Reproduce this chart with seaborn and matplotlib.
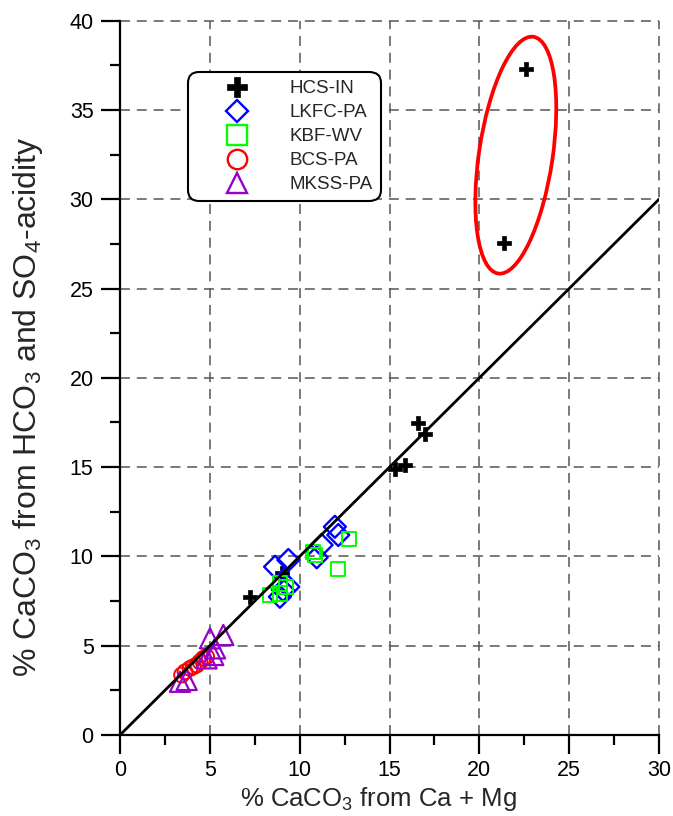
import numpy as np
import pandas as pd
import matplotlib
matplotlib.use("Agg")
import matplotlib.pyplot as plt
import seaborn as sns
from matplotlib.patches import Ellipse
from matplotlib.lines import Line2D
from matplotlib.ticker import MultipleLocator

# ---------------- data ----------------
site_names = ["HCS-IN", "LKFC-PA", "KBF-WV", "BCS-PA", "MKSS-PA"]

hcs_x = [22.59, 21.37, 16.58, 16.97, 15.30, 15.86, 7.23, 9.00]
hcs_y = [37.29, 27.55, 17.47, 16.85, 14.89, 15.12, 7.73, 9.07]

lkfc_x = [8.63, 9.37, 10.95, 11.22, 11.96, 12.15, 8.90, 9.37, 9.07]
lkfc_y = [9.42, 9.80, 9.95, 10.64, 11.66, 11.20, 7.74, 8.30, 8.12]

kbf_x = [12.74, 12.15, 10.76, 10.85, 8.35, 8.90, 9.24, 8.90]
kbf_y = [10.96, 9.28, 10.26, 10.08, 7.84, 7.93, 8.30, 8.49]

bcs_x = [3.43, 3.62, 3.90, 4.08, 4.27, 4.45, 4.64, 4.82]
bcs_y = [3.36, 3.54, 3.73, 3.82, 3.92, 4.10, 4.29, 4.38]

mkss_x = [3.34, 3.71, 5.01, 5.75, 5.29, 5.19, 4.82]
mkss_y = [2.98, 3.08, 5.41, 5.60, 4.85, 4.48, 4.29]

ref_line_x = [0, 30]
ref_line_y = [0, 30]

ellipse_center = (22.03, 32.47)
ellipse_major = 13.4
ellipse_minor = 4.1
ellipse_angle = 81.6

x_ticks = [0, 5, 10, 15, 20, 25, 30]
y_ticks = [0, 5, 10, 15, 20, 25, 30, 35, 40]

x_label = "% CaCO$_3$ from Ca + Mg"
y_label = "% CaCO$_3$ from HCO$_3$ and SO$_4$-acidity"

# ---------------- style ----------------
sns.set_style("ticks")
plt.rcParams["font.family"] = ["Liberation Sans", "DejaVu Sans"]
plt.rcParams["mathtext.fontset"] = "custom"
plt.rcParams["mathtext.rm"] = "Liberation Sans"
plt.rcParams["mathtext.it"] = "Liberation Sans"
plt.rcParams["mathtext.bf"] = "Liberation Sans"
plt.rcParams["mathtext.default"] = "regular"

frames = []
for name, xs, ys in zip(site_names,
                        [hcs_x, lkfc_x, kbf_x, bcs_x, mkss_x],
                        [hcs_y, lkfc_y, kbf_y, bcs_y, mkss_y]):
    frames.append(pd.DataFrame({"x": xs, "y": ys, "site": name}))
df = pd.concat(frames, ignore_index=True)

styles = {
    "HCS-IN":  dict(marker="P", color="#000000", s=115, filled=True,  lw=0.5, lms=14.0),
    "LKFC-PA": dict(marker="D", color="#0000FF", s=125, filled=False, lw=1.7, lms=11.5),
    "KBF-WV":  dict(marker="s", color="#00FF00", s=105, filled=False, lw=1.4, lms=14.0),
    "BCS-PA":  dict(marker="o", color="#FF0000", s=115, filled=False, lw=1.4, lms=14.0),
    "MKSS-PA": dict(marker="^", color="#9600C8", s=210, filled=False, lw=1.6, lms=15.0),
}

fig = plt.figure(figsize=(6.73, 8.16), dpi=100)
ax = fig.add_axes([120 / 673, 1 - 735 / 816, 539 / 673, 714.3 / 816])

for i, name in enumerate(site_names):
    st = styles[name]
    sub = df[df["site"] == name]
    fc = st["color"] if st["filled"] else "none"
    sns.scatterplot(data=sub, x="x", y="y", ax=ax, marker=st["marker"], s=st["s"],
                    color=st["color"], facecolor=fc, edgecolor=st["color"],
                    linewidth=st["lw"], zorder=3 + i * 0.1, legend=False)

sns.lineplot(x=ref_line_x, y=ref_line_y, ax=ax, color="black", lw=2.0, zorder=5)

ax.add_patch(Ellipse(ellipse_center, ellipse_major, ellipse_minor, angle=ellipse_angle,
                     fill=False, edgecolor="#FF0000", lw=2.7, zorder=6))

ax.set_xlim(0, 30)
ax.set_ylim(0, 40)
ax.set_xticks(x_ticks)
ax.set_yticks(y_ticks)
ax.xaxis.set_minor_locator(MultipleLocator(2.5))
ax.yaxis.set_minor_locator(MultipleLocator(2.5))
ax.tick_params(which="major", direction="out", length=14, width=1.6, labelsize=15.5,
               color="black", labelcolor="black")
ax.tick_params(axis="x", which="major", pad=4)
ax.tick_params(axis="y", which="major", pad=5)
ax.tick_params(which="minor", direction="out", length=7, width=1.6, color="black")

for side in ["top", "right"]:
    ax.spines[side].set_visible(False)
for side in ["left", "bottom"]:
    ax.spines[side].set_linewidth(1.6)
    ax.spines[side].set_color("black")

ax.grid(True, which="major", color="#555555", lw=1.1, linestyle=(0, (6.5, 4.5)))
ax.set_axisbelow(True)
for gl in ax.get_xgridlines() + ax.get_ygridlines():
    gl.set_clip_on(False)

ax.set_xlabel(x_label, fontsize=18.5)
ax.set_ylabel(y_label, fontsize=23)
ax.xaxis.set_label_coords(0.48, -0.0705)
ax.yaxis.set_label_coords(-0.14, 0.459)

handles = []
for name in site_names:
    st = styles[name]
    handles.append(Line2D([], [], linestyle="none", marker=st["marker"], markersize=st["lms"],
                          markerfacecolor=st["color"] if st["filled"] else "none",
                          markeredgecolor=st["color"],
                          markeredgewidth=0.5 if st["filled"] else 1.7))
leg = ax.legend(handles, site_names, loc="upper left", bbox_to_anchor=(0.126, 0.928),
                borderaxespad=0, fontsize=13.5, frameon=True, fancybox=True,
                handlelength=4.4, handletextpad=0.6, labelspacing=0.37, borderpad=0.42,
                framealpha=1)
frame = leg.get_frame()
frame.set_edgecolor("black")
frame.set_linewidth(1.5)
frame.set_boxstyle("round", pad=0, rounding_size=0.6)
leg.set_zorder(10)

fig.savefig("out.png", dpi=100)
